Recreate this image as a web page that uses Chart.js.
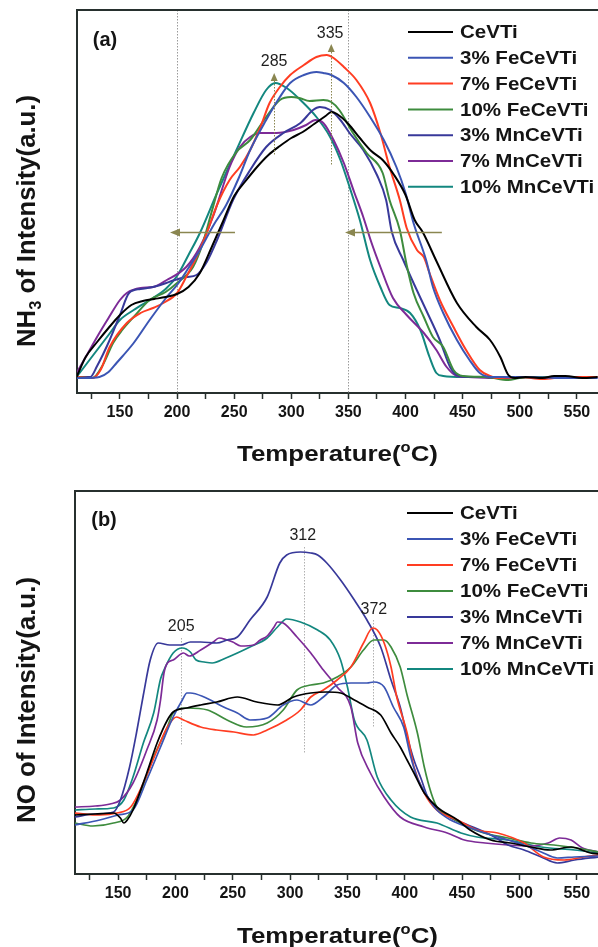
<!DOCTYPE html>
<html><head><meta charset="utf-8">
<script src="https://cdn.jsdelivr.net/npm/chart.js@4.4.0/dist/chart.umd.min.js"></script>
<style>
html,body{margin:0;padding:0;background:#fff;width:598px;height:947px;overflow:hidden}
canvas{position:absolute;left:0;display:block}
#ca{top:0}
#cb{top:470px}
</style></head><body>
<canvas id="ca" width="598" height="470"></canvas>
<canvas id="cb" width="598" height="477"></canvas>
<script>
// ---------- data ----------
const seriesNames = ['CeVTi','3% FeCeVTi','7% FeCeVTi','10% FeCeVTi','3% MnCeVTi','7% MnCeVTi','10% MnCeVTi'];
const seriesColors = ['#000000','#3b55b4','#ff3d22','#3e8c3e','#38399a','#7d2b97','#13877f'];
const xTickLabels = [150,200,250,300,350,400,450,500,550];
const tempRange = [112.4, 568.5];

// (a) NH3-TPD : [temperature °C, intensity a.u.]
const nh3_CeVTi = [[112,16],[120,36],[130,51],[140,65],[150,78],[160,88],[170,92],[180,94],[190,96],[200,99],[210,106],[220,120],[230,145],[240,171],[250,197],[260,212],[270,226],[280,238],[290,247],[300,255],[310,261],[320,269],[330,277],[335,281],[340,279],[350,269],[360,255],[370,242],[380,233],[390,218],[400,198],[408,173],[415,161],[427,132],[445,90],[462,66],[474,53],[483,36],[490,18],[496,15],[505,16],[520,15],[530,17],[540,17],[555,15],[568,16]];
const nh3_Fe3 = [[112,15],[120,15],[132,16],[140,21],[147,30],[162,50],[176,73],[191,96],[200,108],[210,125],[220,143],[232,168],[243,188],[254,215],[264,243],[278,273],[290,296],[299,310],[311,318],[322,321],[328,320],[335,318],[346,310],[357,296],[369,276],[381,253],[392,226],[400,200],[407,170],[418,133],[424,106],[433,80],[445,53],[456,33],[465,20],[475,16],[500,16],[540,15],[568,15]];
const nh3_Fe7 = [[112,16],[126,15],[133,23],[141,46],[156,70],[168,80],[179,85],[188,90],[200,100],[208,116],[217,136],[226,160],[235,188],[246,213],[255,226],[264,243],[273,266],[281,290],[290,306],[299,318],[311,328],[322,336],[331,338],[337,335],[346,326],[357,313],[369,290],[378,260],[386,226],[395,193],[401,165],[410,143],[416,136],[421,120],[430,93],[442,66],[453,43],[465,23],[474,17],[480,15],[500,16],[520,14],[540,16],[568,16]];
const nh3_Fe10 = [[112,16],[126,15],[135,28],[144,50],[152,63],[162,76],[176,93],[190,101],[200,110],[214,126],[222,148],[230,180],[239,215],[252,241],[264,253],[278,276],[290,293],[300,296],[307,295],[316,292],[328,293],[335,291],[342,283],[354,260],[366,240],[380,220],[386,193],[395,163],[401,128],[407,100],[416,76],[424,56],[433,46],[442,23],[450,17],[470,16],[490,13],[500,15],[530,16],[568,16]];
const nh3_Mn3 = [[112,16],[124,16],[130,27],[141,53],[150,78],[158,100],[168,104],[179,106],[188,109],[198,113],[208,116],[217,118],[226,131],[235,153],[249,193],[264,223],[278,246],[293,260],[308,270],[319,283],[325,286],[334,283],[343,273],[351,260],[363,243],[375,218],[383,193],[388,161],[398,133],[407,110],[418,83],[430,53],[439,26],[445,18],[455,16],[480,16],[520,16],[568,15]];
const nh3_Mn7 = [[112,20],[120,36],[132,60],[140,75],[150,93],[156,100],[168,105],[179,106],[191,113],[208,126],[220,146],[232,178],[246,226],[255,246],[264,256],[273,260],[287,260],[302,263],[313,268],[321,273],[328,270],[337,253],[346,230],[355,201],[363,176],[370,151],[378,126],[389,95],[401,78],[416,60],[427,43],[436,26],[445,17],[455,16],[480,15],[520,16],[568,16]];
const nh3_Mn10 = [[112,16],[120,28],[132,46],[140,58],[150,73],[162,83],[179,95],[190,104],[200,117],[210,138],[220,160],[235,200],[252,243],[267,280],[278,303],[286,310],[296,305],[308,293],[322,276],[334,256],[343,233],[351,206],[360,173],[369,133],[378,106],[386,88],[395,85],[404,80],[413,63],[421,36],[427,20],[433,17],[450,16],[480,16],[520,16],[568,16]];

// (b) NO-TPD : [temperature °C, intensity a.u.]
const no_CeVTi = [[112,59],[130,60],[146,61],[152,56],[155,51],[158,54],[163,64],[175,101],[184,131],[193,154],[198,162],[210,166],[222,169],[236,172],[254,177],[271,172],[289,169],[303,177],[318,181],[332,182],[344,181],[356,174],[367,167],[379,159],[388,141],[396,127],[402,114],[408,101],[417,81],[428,67],[446,54],[457,44],[475,34],[492,31],[510,27],[527,24],[545,27],[562,21],[569,20]];
const no_Fe3 = [[112,49],[134,54],[150,59],[163,64],[175,94],[187,127],[198,157],[206,174],[210,181],[213,181],[225,177],[242,167],[254,161],[265,154],[280,156],[294,169],[306,174],[318,169],[329,177],[341,189],[353,191],[367,191],[373,192],[382,187],[390,167],[399,147],[405,118],[411,96],[420,77],[428,64],[440,54],[455,47],[475,39],[490,34],[504,29],[519,22],[533,16],[548,17],[569,18]];
const no_Fe7 = [[112,61],[134,59],[149,61],[161,67],[172,91],[184,124],[193,147],[201,157],[207,154],[222,147],[236,144],[251,142],[268,139],[280,144],[297,154],[309,164],[318,177],[329,184],[341,194],[353,207],[364,231],[372,246],[376,244],[382,231],[388,207],[393,177],[402,141],[408,107],[417,81],[428,64],[446,54],[463,44],[481,41],[504,31],[521,17],[539,14],[556,17],[569,19]];
const no_Fe10 = [[112,51],[128,48],[146,51],[158,57],[169,81],[181,117],[193,147],[198,161],[210,166],[228,164],[245,154],[262,147],[280,151],[294,164],[306,184],[318,189],[329,191],[341,197],[353,207],[364,224],[373,234],[382,234],[388,227],[396,207],[402,179],[411,141],[417,107],[423,81],[428,67],[440,57],[455,47],[469,41],[490,36],[510,31],[530,29],[550,26],[569,22]];
const no_Mn3 = [[112,57],[130,60],[146,62],[152,74],[160,107],[166,141],[172,179],[178,214],[185,231],[195,229],[205,229],[213,232],[222,232],[236,231],[245,234],[254,237],[265,254],[280,277],[291,311],[297,319],[309,322],[318,321],[324,319],[332,311],[344,294],[356,274],[367,254],[379,227],[388,194],[396,167],[402,138],[408,114],[414,96],[420,77],[428,66],[440,56],[455,49],[475,39],[490,29],[504,24],[519,17],[533,11],[548,14],[569,17]];
const no_Mn7 = [[112,67],[130,68],[143,70],[152,74],[163,91],[175,124],[184,154],[187,174],[190,201],[193,211],[198,214],[207,221],[212,218],[222,224],[233,232],[238,236],[245,234],[250,232],[257,228],[268,229],[274,234],[280,238],[286,247],[289,252],[294,251],[306,237],[318,221],[329,204],[341,187],[353,167],[359,131],[370,101],[382,77],[396,57],[417,47],[437,41],[452,34],[470,31],[490,29],[510,28],[525,31],[535,36],[545,34],[555,26],[569,22]];
const no_Mn10 = [[112,64],[130,65],[146,66],[155,74],[163,97],[172,131],[181,161],[187,195],[190,204],[198,221],[206,226],[213,222],[218,214],[225,212],[232,211],[244,216],[265,227],[280,236],[289,247],[297,255],[309,252],[324,244],[335,234],[344,214],[350,187],[356,154],[367,134],[376,97],[388,74],[405,57],[428,51],[449,41],[463,37],[490,34],[519,27],[548,24],[569,21]];

const nh3Series = [nh3_CeVTi, nh3_Fe3, nh3_Fe7, nh3_Fe10, nh3_Mn3, nh3_Mn7, nh3_Mn10];
const noSeries = [no_CeVTi, no_Fe3, no_Fe7, no_Fe10, no_Mn3, no_Mn7, no_Mn10];

// annotated peak temperatures
const nh3Peaks = [285, 335];
const noPeaks = [205, 312, 372];

// ---------- drawing ----------
const FONT = "'Liberation Sans', Arial, Helvetica, sans-serif";
const INK = '#141414';
const FRAME = '#27302e';
const OLIVE = '#8a8650';
const GUIDE = '#9a9a9a';

function drawParts(ctx, parts, cx, cy, target, rotate) {
  ctx.save();
  let W = 0;
  const ws = parts.map(p => { ctx.font = 'bold ' + p[1] + 'px ' + FONT; const w = ctx.measureText(p[0]).width; W += w; return w; });
  const s = target / W;
  ctx.translate(cx, cy);
  if (rotate) ctx.rotate(-Math.PI / 2);
  ctx.scale(s, 1);
  ctx.fillStyle = INK; ctx.textBaseline = 'alphabetic'; ctx.textAlign = 'left';
  let x = -W / 2;
  parts.forEach((p, i) => { ctx.font = 'bold ' + p[1] + 'px ' + FONT; ctx.fillText(p[0], x, p[2]); x += ws[i]; });
  ctx.restore();
}

const decoPlugin = {
  id: 'deco',
  beforeDatasetsDraw(chart, args, o) {
    const {ctx, chartArea: a, scales: {x, y}} = chart;
    ctx.save();
    (o.guides || []).forEach(g => {
      ctx.beginPath();
      ctx.setLineDash(g.dash || [1.5, 1.5]);
      ctx.strokeStyle = g.color; ctx.lineWidth = 1;
      const px = Math.round(x.getPixelForValue(g.x)) + 0.5;
      const y0 = g.from == null ? a.top : y.getPixelForValue(g.from);
      const y1 = g.to == null ? a.bottom : y.getPixelForValue(g.to);
      ctx.moveTo(px, y0); ctx.lineTo(px, y1); ctx.stroke();
    });
    ctx.restore();
  },
  afterDraw(chart, args, o) {
    const {ctx, chartArea: a, scales: {x, y}} = chart;
    ctx.save();
    // top frame line
    ctx.strokeStyle = FRAME; ctx.lineWidth = 2; ctx.setLineDash([]);
    ctx.beginPath(); ctx.moveTo(a.left - 1, a.top); ctx.lineTo(chart.width, a.top); ctx.stroke();
    // panel tag
    ctx.fillStyle = INK; ctx.font = 'bold 20px ' + FONT; ctx.textAlign = 'center'; ctx.textBaseline = 'middle';
    ctx.fillText(o.tag.text, o.tag.x, o.tag.y);
    // olive markers (triangle + dotted stem)
    (o.markers || []).forEach(m => {
      const px = x.getPixelForValue(m.x);
      const tip = y.getPixelForValue(m.tip), base = y.getPixelForValue(m.base), end = y.getPixelForValue(m.to);
      ctx.beginPath(); ctx.setLineDash([1.5, 1.5]); ctx.strokeStyle = OLIVE; ctx.lineWidth = 1;
      ctx.moveTo(Math.round(px) + 0.5, base); ctx.lineTo(Math.round(px) + 0.5, end); ctx.stroke();
      ctx.setLineDash([]);
      ctx.fillStyle = OLIVE; ctx.beginPath();
      ctx.moveTo(px, tip); ctx.lineTo(px - 3.5, base); ctx.lineTo(px + 3.5, base); ctx.closePath(); ctx.fill();
    });
    // horizontal arrows
    (o.arrows || []).forEach(r => {
      const py = Math.round(y.getPixelForValue(r.y)) + 0.5;
      const x0 = x.getPixelForValue(r.from), x1 = x.getPixelForValue(r.to);
      ctx.setLineDash([]); ctx.strokeStyle = OLIVE; ctx.lineWidth = 1.5;
      ctx.beginPath(); ctx.moveTo(x0, py); ctx.lineTo(x1 + 8, py); ctx.stroke();
      ctx.fillStyle = OLIVE; ctx.beginPath();
      ctx.moveTo(x1, py); ctx.lineTo(x1 + 10, py - 4); ctx.lineTo(x1 + 10, py + 4); ctx.closePath(); ctx.fill();
    });
    // peak labels
    ctx.fillStyle = '#1e1e1e'; ctx.font = '16px ' + FONT; ctx.textAlign = 'center'; ctx.textBaseline = 'middle';
    (o.peakLabels || []).forEach(l => ctx.fillText(String(l.text), x.getPixelForValue(l.x), y.getPixelForValue(l.y)));
    // legend
    const L = o.legend;
    seriesNames.forEach((n, i) => {
      const ly = L.y0 + i * L.dy;
      ctx.strokeStyle = seriesColors[i]; ctx.lineWidth = 2; ctx.setLineDash([]);
      ctx.beginPath(); ctx.moveTo(L.x0, ly); ctx.lineTo(L.x1, ly); ctx.stroke();
      ctx.save();
      ctx.translate(L.tx, ly); ctx.scale(L.sx, 1);
      ctx.fillStyle = INK; ctx.font = 'bold ' + L.size + 'px ' + FONT; ctx.textAlign = 'left'; ctx.textBaseline = 'middle';
      ctx.fillText(n, 0, 1);
      ctx.restore();
    });
    // axis titles
    drawParts(ctx, [['Temperature(', 22, 0], ['o', 14, -9], ['C)', 22, 0]], o.xTitle.cx, o.xTitle.base, o.xTitle.len, false);
    drawParts(ctx, o.yTitle.parts, o.yTitle.cx, o.yTitle.cy, o.yTitle.len, true);
    ctx.restore();
  }
};

function makeChart(id, series, lw, pad, xHeight, deco) {
  const ctx = document.getElementById(id).getContext('2d');
  return new Chart(ctx, {
    type: 'line',
    data: {
      datasets: series.map((s, i) => ({
        label: seriesNames[i],
        data: s.map(p => ({x: p[0], y: p[1]})),
        borderColor: seriesColors[i],
        borderWidth: lw,
        pointRadius: 0,
        fill: false,
        cubicInterpolationMode: 'monotone',
        tension: 0.4
      }))
    },
    options: {
      responsive: false, animation: false, devicePixelRatio: 1,
      parsing: false,
      layout: {padding: pad},
      plugins: {legend: {display: false}, tooltip: {enabled: false}, deco: deco},
      scales: {
        x: {
          type: 'linear', min: tempRange[0], max: tempRange[1],
          ticks: {
            stepSize: 25, includeBounds: false, autoSkip: false, maxRotation: 0, padding: 4,
            color: INK, font: {family: FONT, size: 16, weight: 'bold'},
            callback: v => (xTickLabels.includes(v) ? String(v) : '')
          },
          grid: {display: true, drawOnChartArea: false, drawTicks: true, tickLength: 6, color: FRAME, tickColor: FRAME, tickWidth: 1.5},
          border: {display: true, color: FRAME, width: 2},
          afterFit: s => { s.height = xHeight; }
        },
        y: {
          type: 'linear', min: 0, max: 383,
          ticks: {display: false},
          grid: {display: false, drawTicks: false},
          border: {display: true, color: FRAME, width: 2},
          afterFit: s => { s.width = 0; }
        }
      }
    },
    plugins: [decoPlugin]
  });
}

makeChart('ca', nh3Series, 2, {left: 77, top: 10, right: 0, bottom: 0}, 77, {
  tag: {text: '(a)', x: 105, y: 40},
  guides: [{x: 200, color: GUIDE}, {x: 350, color: GUIDE}],
  markers: [{x: nh3Peaks[0], tip: 320, base: 312, to: 238}, {x: nh3Peaks[1], tip: 349, base: 341, to: 228}],
  arrows: [{y: 161, from: 250.7, to: 193.8}, {y: 161, from: 431.8, to: 347}],
  peakLabels: [{text: nh3Peaks[0], x: 285, y: 331}, {text: nh3Peaks[1], x: 334, y: 359}],
  legend: {x0: 408, x1: 453, tx: 460, y0: 32, dy: 25.8, size: 19, sx: 1.08},
  xTitle: {cx: 337.5, base: 461, len: 201},
  yTitle: {parts: [['NH', 25, 0], ['3', 16, 6], [' of Intensity(a.u.)', 25, 0]], cx: 35, cy: 221, len: 252}
});

makeChart('cb', noSeries, 1.7, {left: 75, top: 21, right: 0, bottom: 0}, 73, {
  tag: {text: '(b)', x: 104, y: 50},
  guides: [
    {x: noPeaks[0], from: 236, to: 129, color: '#b0b0b0'},
    {x: noPeaks[1], from: 327, to: 120, color: '#b0b0b0'},
    {x: noPeaks[2], from: 254, to: 147, color: '#b0b0b0'}
  ],
  peakLabels: [{text: noPeaks[0], x: 205, y: 247}, {text: noPeaks[1], x: 311, y: 338}, {text: noPeaks[2], x: 373, y: 264}],
  legend: {x0: 407, x1: 453, tx: 460, y0: 43, dy: 26, size: 19, sx: 1.08},
  xTitle: {cx: 337.5, base: 473, len: 201},
  yTitle: {parts: [['NO of Intensity(a.u.)', 25, 0]], cx: 35, cy: 230, len: 246}
});
</script>
</body></html>
